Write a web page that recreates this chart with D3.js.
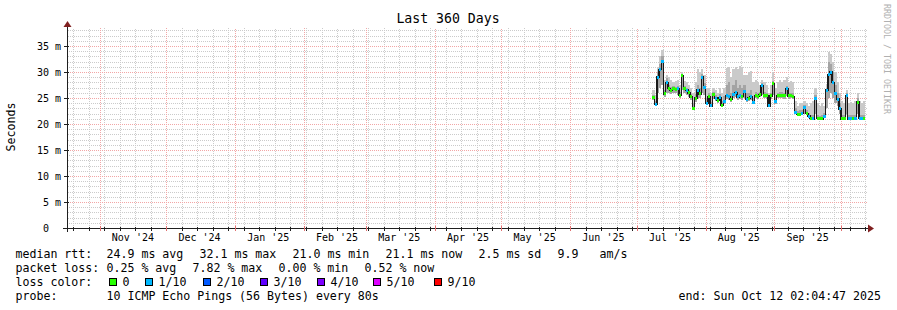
<!DOCTYPE html>
<html>
<head>
<meta charset="utf-8">
<script src="https://cdn.jsdelivr.net/npm/d3@7"></script>
<style>
  body { margin: 0; background: #fff; }
  svg text { font-family: "DejaVu Sans Mono", monospace; white-space: pre; }
</style>
</head>
<body>
<svg width="897" height="310"></svg>
<script>
// graph window: 360 days ending Sun Oct 12 02:04:47 2025
var startTime = Date.UTC(2024, 9, 17, 2, 4, 47);
var endTime = Date.UTC(2025, 9, 12, 2, 4, 47);
var firstDay = Date.UTC(2025, 6, 8, 2, 0, 0);   // first day with data

// daily consolidated values (ms), one per day from firstDay
var medianRtt = [25.1, 23.8, 29.0, 30.5, 32.1, 25.8, 28.0, 26.8, 26.5, 26.9,
                 26.7, 26.8, 25.5, 29.3, 26.8, 26.5, 26.0, 25.2, 23.0, 25.0,
                 26.5, 25.8, 29.0, 27.0, 24.0, 25.3, 23.5, 25.6, 25.0, 24.5,
                 25.1, 23.6, 24.3, 25.5, 25.3, 24.8, 25.7, 26.0, 25.2, 25.5,
                 25.3, 26.3, 24.8, 25.0, 25.3, 24.2, 25.5, 25.3, 25.6, 27.4,
                 25.5, 25.4, 23.5, 25.4, 27.8, 24.3, 25.4, 25.4, 25.5, 25.4,
                 26.8, 25.4, 25.4, 25.3, 22.3, 21.9, 21.9, 22.0, 23.2, 22.0,
                 21.5, 21.1, 21.0, 25.0, 21.1, 21.0, 21.0, 21.5, 26.5, 29.5,
                 30.0, 28.0, 25.8, 24.8, 22.9, 21.0, 21.1, 25.5, 21.0, 21.0,
                 21.1, 21.0, 24.2, 21.1, 21.0, 21.1];
var smokeLow = [24.6, 23.5, 26.0, 27.0, 27.5, 25.2, 26.0, 26.0, 25.8, 26.0,
                25.9, 25.5, 25.0, 26.5, 26.0, 25.6, 25.2, 24.6, 22.8, 24.2,
                25.0, 25.0, 26.0, 25.5, 23.6, 24.5, 23.2, 24.8, 24.4, 24.0,
                24.5, 23.3, 23.8, 24.8, 24.7, 24.3, 25.0, 25.2, 24.6, 24.8,
                24.7, 25.0, 24.3, 24.5, 24.6, 23.8, 25.0, 24.9, 25.1, 25.5,
                25.0, 24.9, 23.2, 24.9, 25.5, 23.9, 25.0, 25.0, 25.0, 24.9,
                25.3, 24.9, 25.0, 24.8, 22.0, 21.6, 21.6, 21.7, 22.0, 21.7,
                21.2, 20.9, 20.8, 22.0, 20.9, 20.8, 20.8, 21.2, 23.0, 25.0,
                26.0, 25.0, 24.0, 23.5, 22.0, 20.8, 20.9, 22.0, 20.8, 20.8,
                20.9, 20.8, 22.0, 20.9, 20.8, 20.9];
// top of the denser (darker) part of the smoke
var smokeDark = [25.6, 24.5, 30.0, 31.5, 33.0, 26.5, 28.8, 27.5, 27.2, 27.3,
                 27.2, 27.3, 26.2, 29.6, 27.3, 27.0, 26.5, 25.8, 24.0, 25.8,
                 27.5, 27.0, 29.6, 27.8, 25.0, 25.9, 24.3, 26.2, 25.6, 25.0,
                 25.8, 24.5, 25.3, 27.5, 28.0, 26.0, 27.5, 28.5, 27.0, 27.5,
                 27.0, 27.5, 26.0, 26.0, 26.5, 25.0, 26.2, 25.9, 26.2, 27.8,
                 26.1, 26.0, 24.2, 26.0, 28.2, 25.0, 26.0, 26.2, 26.1, 26.0,
                 27.3, 26.0, 26.0, 25.9, 23.0, 22.5, 22.6, 22.7, 23.6, 22.6,
                 22.1, 21.8, 21.8, 25.6, 21.8, 21.6, 21.7, 22.1, 27.0, 32.0,
                 31.5, 30.0, 27.5, 26.0, 24.0, 21.8, 21.8, 26.0, 21.7, 21.8,
                 21.8, 21.7, 25.0, 21.8, 21.7, 21.8];
var smokeHigh = [26.5, 25.5, 31.0, 33.0, 34.2, 28.5, 29.5, 29.0, 28.5, 28.0,
                 28.3, 28.5, 27.5, 30.0, 28.3, 28.0, 27.5, 27.0, 26.0, 28.0,
                 30.5, 30.0, 30.5, 29.5, 27.0, 27.0, 26.0, 27.0, 26.5, 26.0,
                 27.0, 26.0, 27.0, 30.8, 31.0, 29.0, 30.5, 31.0, 30.5, 31.2,
                 31.0, 29.5, 29.5, 30.0, 30.1, 28.0, 28.5, 28.0, 27.5, 28.5,
                 28.0, 27.5, 26.0, 27.5, 30.0, 27.0, 28.0, 28.5, 28.0, 28.5,
                 29.0, 28.0, 28.3, 28.0, 24.5, 23.5, 24.0, 24.0, 24.5, 24.0,
                 23.5, 24.0, 24.5, 27.0, 24.0, 23.5, 24.0, 23.5, 27.7, 33.8,
                 33.5, 32.0, 30.0, 28.0, 26.0, 24.5, 24.0, 26.5, 24.0, 24.3,
                 24.0, 24.5, 26.0, 24.5, 24.0, 24.5];
// loss level index into lossLabels
var lossLevel = [0, 1, 1, 1, 1, 0, 1, 0, 0, 0,
                 0, 1, 0, 0, 0, 1, 0, 0, 0, 0,
                 1, 0, 1, 1, 1, 0, 1, 0, 1, 0,
                 1, 0, 1, 1, 1, 0, 1, 1, 1, 1,
                 0, 1, 1, 0, 1, 1, 0, 0, 0, 1,
                 0, 0, 1, 0, 0, 1, 0, 0, 0, 0,
                 1, 0, 0, 0, 1, 0, 0, 1, 1, 0,
                 1, 0, 1, 1, 0, 0, 0, 1, 1, 1,
                 1, 1, 1, 1, 1, 0, 0, 1, 1, 1,
                 0, 1, 0, 1, 1, 0];

var lossLabels = ["0", "1/10", "2/10", "3/10", "4/10", "5/10", "9/10"];
var lossColors = ["#26ff00", "#00b8ff", "#0059ff", "#5e00ff", "#7e00ff", "#dd00ff", "#ff0000"];
var lossBoxX = [109, 145, 203, 260, 317, 373, 434];

var yTicks = [0, 5, 10, 15, 20, 25, 30, 35];

var rttLegend = [[16, "median rtt:"], [107, "24.9 ms avg"], [200, "32.1 ms max"],
                 [293, "21.0 ms min"], [386, "21.1 ms now"], [479, "2.5 ms sd"],
                 [558, "9.9"], [600, "am/s"]];
var lossLegend = [[16, "packet loss:"], [107, "0.25 % avg"], [193, "7.82 % max"],
                  [279, "0.00 % min"], [365, "0.52 % now"]];
var probeLegend = [[16, "probe:"], [107, "10 ICMP Echo Pings (56 Bytes) every 80s"]];
var endLabel = "end: Sun Oct 12 02:04:47 2025";

var svg = d3.select("svg");
var plotL = 67, plotR = 866, plotT = 28, plotB = 228;

var x = d3.scaleUtc().domain([startTime, endTime]).range([plotL - 0.5, plotR - 0.5]);
var y = d3.scaleLinear().domain([0, 200 / 5.2]).range([plotB, plotT]);

svg.append("rect").attr("width", 897).attr("height", 310).attr("fill", "#fff");

// checkerboard patterns give 1px dotted grid lines on any row / column
var defs = svg.append("defs");
[["dotMinor", "#cbcbcb"], ["dotMajor", "#f2a6a6"]].forEach(function(p) {
  var pat = defs.append("pattern").attr("id", p[0])
    .attr("patternUnits", "userSpaceOnUse").attr("width", 2).attr("height", 2);
  pat.append("rect").attr("x", 0).attr("y", 0).attr("width", 1).attr("height", 1).attr("fill", p[1]);
  pat.append("rect").attr("x", 1).attr("y", 1).attr("width", 1).attr("height", 1).attr("fill", p[1]);
});

// grid
var weeks = d3.utcSunday.range(startTime, endTime);
var months = d3.utcMonth.range(startTime, endTime);
var minorY = d3.range(1, 39).filter(function(v) { return v % 5 != 0; });
var grid = svg.append("g").attr("shape-rendering", "crispEdges");

function hLines(vals, fill) {
  grid.selectAll(null).data(vals).enter().append("rect")
    .attr("x", plotL + 1).attr("width", plotR - plotL)
    .attr("y", function(d) { return Math.round(y(d)); }).attr("height", 1)
    .attr("fill", fill);
}
function vLines(vals, fill) {
  grid.selectAll(null).data(vals).enter().append("rect")
    .attr("x", function(d) { return Math.round(x(d)); }).attr("width", 1)
    .attr("y", plotT).attr("height", plotB - plotT)
    .attr("fill", fill);
}
hLines(minorY, "url(#dotMinor)");
vLines(weeks, "url(#dotMinor)");
hLines(yTicks.slice(1), "url(#dotMajor)");
vLines(months, "url(#dotMajor)");

// data
var points = medianRtt.map(function(m, i) {
  var t = firstDay + i * 864e5;
  return {t0: t, t1: t + 864e5, med: m, lo: smokeLow[i], mid: smokeDark[i],
          hi: smokeHigh[i], loss: lossLevel[i]};
});

var plot = svg.append("g").attr("shape-rendering", "crispEdges");
plot.selectAll(".smoke").data(points).enter().append("rect")
  .attr("x", function(d) { return x(d.t0); })
  .attr("width", function(d) { return x(d.t1) - x(d.t0); })
  .attr("y", function(d) { return y(d.hi); })
  .attr("height", function(d) { return y(d.lo) - y(d.hi); })
  .attr("fill", "#cacaca");
plot.selectAll(".smokedark").data(points).enter().append("rect")
  .attr("x", function(d) { return x(d.t0); })
  .attr("width", function(d) { return x(d.t1) - x(d.t0); })
  .attr("y", function(d) { return y(d.mid); })
  .attr("height", function(d) { return y(d.lo) - y(d.mid); })
  .attr("fill", "#a4a4a4");

var stepPts = points.map(function(d) { return [d.t0, d.med]; });
stepPts.push([points[points.length - 1].t1, points[points.length - 1].med]);
var medLine = d3.line()
  .x(function(d) { return x(d[0]); })
  .y(function(d) { return y(d[1]); })
  .curve(d3.curveStepAfter);
plot.append("path").datum(stepPts)
  .attr("d", medLine)
  .attr("fill", "none").attr("stroke", "#1a1a1a").attr("stroke-width", 1.5);

plot.selectAll(".loss").data(points).enter().append("rect")
  .attr("x", function(d) { return x(d.t0); })
  .attr("width", function(d) { return x(d.t1) - x(d.t0); })
  .attr("y", function(d) { return y(d.med) - 1.5; })
  .attr("height", 3)
  .attr("fill", function(d) { return lossColors[d.loss]; });

// axes
var axis = svg.append("g").attr("shape-rendering", "crispEdges");
axis.append("line").attr("x1", 63).attr("x2", 868).attr("y1", plotB + 0.5).attr("y2", plotB + 0.5)
  .attr("stroke", "#1f1f1f");
axis.append("line").attr("x1", plotL + 0.5).attr("x2", plotL + 0.5).attr("y1", 232).attr("y2", 26)
  .attr("stroke", "#1f1f1f");
axis.selectAll(null).data(weeks).enter().append("rect")
  .attr("x", function(d) { return Math.round(x(d)); }).attr("width", 1)
  .attr("y", plotB - 1).attr("height", 4).attr("fill", "#1f1f1f");
axis.selectAll(null).data(months).enter().append("rect")
  .attr("x", function(d) { return Math.round(x(d)); }).attr("width", 1)
  .attr("y", plotB - 2).attr("height", 5).attr("fill", "#e07070");
axis.selectAll(null).data(yTicks).enter().append("rect")
  .attr("x", plotL - 3).attr("width", 5)
  .attr("y", function(d) { return Math.round(y(d)); }).attr("height", 1)
  .attr("fill", "#1f1f1f");
svg.append("path").attr("d", "M868,224.5L874,228.5L868,232.5Z").attr("fill", "#802020");
svg.append("path").attr("d", "M63.5,27L67.5,21L71.5,27Z").attr("fill", "#802020");

// tick labels
svg.selectAll(null).data(yTicks).enter().append("text")
  .attr("x", 61).attr("y", function(d) { return y(d); }).attr("dy", "0.36em")
  .attr("text-anchor", "end").attr("font-size", "10px")
  .text(function(d) { return d == 0 ? "0  " : d + " m"; });

var monthLabels = d3.utcMonth.range(d3.utcMonth.offset(startTime, -1), endTime)
  .filter(function(d) { var c = +d + 15 * 864e5; return c > startTime && c < endTime; });
svg.selectAll(null).data(monthLabels).enter().append("text")
  .attr("x", function(d) { return x(+d + 15 * 864e5); }).attr("y", 241)
  .attr("text-anchor", "middle").attr("font-size", "10px")
  .text(function(d) { return d3.utcFormat("%b '%y")(d); });

// titles
svg.append("text").attr("x", 448).attr("y", 23).attr("text-anchor", "middle")
  .attr("font-size", "13.2px").text("Last 360 Days");
svg.append("text").attr("transform", "translate(15,127) rotate(-90)")
  .attr("text-anchor", "middle").attr("font-size", "11.6px").text("Seconds");
svg.append("text").attr("transform", "translate(884,4) rotate(90)")
  .attr("font-size", "8.3px").attr("fill", "#b0b0b0").text("RRDTOOL / TOBI OETIKER");

// legend
function legendRow(items, yy) {
  items.forEach(function(it) {
    svg.append("text").attr("x", it[0] - 0.5).attr("y", yy)
      .attr("font-size", "11.6px").text(it[1]);
  });
}
legendRow(rttLegend, 258);
legendRow(lossLegend, 272);
legendRow([[16, "loss color:"]], 286);
legendRow(probeLegend, 300);
lossLabels.forEach(function(l, i) {
  svg.append("rect").attr("x", lossBoxX[i] + 0.5).attr("y", 278.5).attr("width", 7).attr("height", 7)
    .attr("fill", lossColors[i]).attr("stroke", "#000").attr("shape-rendering", "crispEdges");
  svg.append("text").attr("x", lossBoxX[i] + 13.5).attr("y", 286)
    .attr("font-size", "11.6px").text(l);
});
svg.append("text").attr("x", 881).attr("y", 300).attr("text-anchor", "end")
  .attr("font-size", "11.6px").text(endLabel);
</script>
</body>
</html>
